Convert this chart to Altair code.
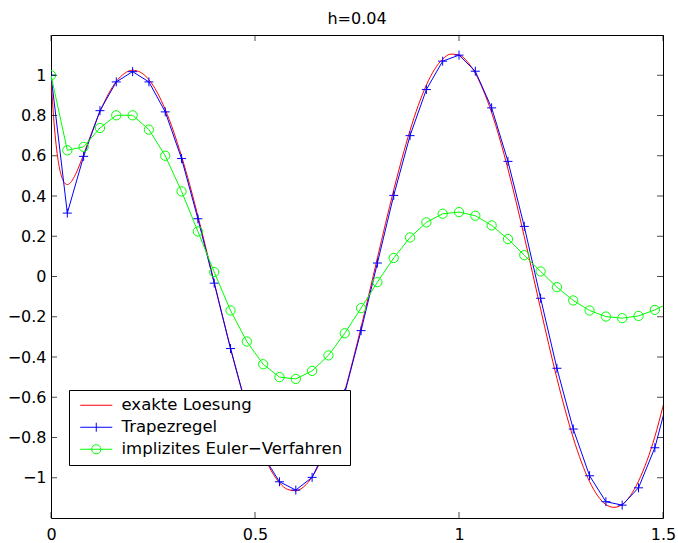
import altair as alt
import pandas as pd

# ---------------- data ----------------
series_names = ["exakte Loesung", "Trapezregel", "implizites Euler−Verfahren"]
series_colors = ["#ff0000", "#0000ff", "#00ff00"]

# exact solution (dense samples)
exact_t = [0.0, 0.005, 0.01, 0.015, 0.02, 0.025, 0.03, 0.035, 0.04, 0.045,
           0.05, 0.06, 0.07, 0.08, 0.09, 0.10, 0.12, 0.14, 0.16, 0.18,
           0.20, 0.22, 0.24, 0.26, 0.28, 0.30, 0.32, 0.34, 0.36, 0.38,
           0.40, 0.42, 0.44, 0.46, 0.48, 0.50, 0.52, 0.54, 0.56, 0.58,
           0.60, 0.62, 0.64, 0.66, 0.68, 0.70, 0.72, 0.74, 0.76, 0.78,
           0.80, 0.82, 0.84, 0.86, 0.88, 0.90, 0.92, 0.94, 0.96, 0.98,
           1.00, 1.02, 1.04, 1.06, 1.08, 1.10, 1.12, 1.14, 1.16, 1.18,
           1.20, 1.22, 1.24, 1.26, 1.28, 1.30, 1.32, 1.34, 1.36, 1.38,
           1.40, 1.42, 1.44, 1.46, 1.48, 1.50, 1.52]
exact_y = [1.0, 0.830, 0.705, 0.612, 0.547, 0.503, 0.475, 0.461, 0.457, 0.461,
           0.472, 0.507, 0.554, 0.607, 0.662, 0.716, 0.818, 0.904, 0.969, 1.009,
           1.025, 1.014, 0.978, 0.916, 0.830, 0.723, 0.597, 0.456, 0.301, 0.139,
           -0.028, -0.194, -0.356, -0.510, -0.652, -0.777, -0.882, -0.966, -1.025, -1.058,
           -1.065, -1.044, -0.996, -0.922, -0.825, -0.706, -0.569, -0.416, -0.252, -0.082,
           0.092, 0.264, 0.430, 0.585, 0.726, 0.849, 0.951, 1.029, 1.080, 1.105,
           1.101, 1.069, 1.009, 0.923, 0.814, 0.683, 0.534, 0.371, 0.198, 0.019,
           -0.161, -0.338, -0.506, -0.662, -0.802, -0.922, -1.019, -1.090, -1.133, -1.147,
           -1.133, -1.089, -1.017, -0.919, -0.796, -0.645, -0.485]

# time grid of the two methods (h = 0.04)
step_t = [0.0, 0.04, 0.08, 0.12, 0.16, 0.20, 0.24, 0.28, 0.32, 0.36,
          0.40, 0.44, 0.48, 0.52, 0.56, 0.60, 0.64, 0.68, 0.72, 0.76,
          0.80, 0.84, 0.88, 0.92, 0.96, 1.00, 1.04, 1.08, 1.12, 1.16,
          1.20, 1.24, 1.28, 1.32, 1.36, 1.40, 1.44, 1.48, 1.52]
trap_y = [1.0, 0.315, 0.597, 0.824, 0.967, 1.018, 0.967, 0.818, 0.586, 0.287,
          -0.033, -0.358, -0.655, -0.890, -1.020, -1.061, -0.998, -0.830, -0.580, -0.269,
          0.067, 0.403, 0.700, 0.929, 1.070, 1.100, 1.020, 0.838, 0.572, 0.249,
          -0.108, -0.456, -0.758, -0.990, -1.119, -1.136, -1.050, -0.851, -0.543]
euler_y = [1.0, 0.627, 0.644, 0.738, 0.801, 0.801, 0.730, 0.600, 0.423, 0.224,
           0.022, -0.169, -0.323, -0.436, -0.500, -0.509, -0.469, -0.392, -0.282, -0.157,
           -0.028, 0.092, 0.194, 0.269, 0.312, 0.320, 0.302, 0.254, 0.186, 0.106,
           0.025, -0.053, -0.119, -0.169, -0.199, -0.207, -0.196, -0.166, -0.126]

ytick_vals = [-1.0, -0.8, -0.6, -0.4, -0.2, 0.0, 0.2, 0.4, 0.6, 0.8, 1.0]
xtick_vals = [0.0, 0.5, 1.0, 1.5]
x_domain = [0.0, 1.5]
y_domain = [-1.2, 1.2]

# legend glyphs (line + marker), drawn by the legend itself
legend_paths = [
    "M-2.29,0H2.29",
    "M-2.29,0H2.29M0,-0.64V0.64",
    "M-2.29,0H2.29M0.66,0A0.66,0.66 0 1 1 -0.66,0A0.66,0.66 0 1 1 0.66,0",
]

# ---------------- tables ----------------
exact_df = pd.DataFrame({"t": exact_t, "y": exact_y})
trap_df = pd.DataFrame({"t": step_t, "y": trap_y})
euler_df = pd.DataFrame({"t": step_t, "y": euler_y})
legend_df = pd.DataFrame({"series": series_names})
ytick_df = pd.DataFrame({"v": ytick_vals})
xtick_df = pd.DataFrame({"v": xtick_vals})

FONT = "DejaVu Sans"
xs = alt.Scale(domain=x_domain, nice=False, zero=False)
ys = alt.Scale(domain=y_domain, nice=False, zero=False)

x_axis = alt.Axis(values=xtick_vals, format="~g", ticks=False, domain=False, grid=False,
                  labelPadding=8, labelFlush=False, labelFont=FONT, labelFontSize=16,
                  labelColor="black", title=None)
y_axis = alt.Axis(values=ytick_vals, format="~g", ticks=False, domain=False, grid=False,
                  labelPadding=5, labelFont=FONT, labelFontSize=16, labelColor="black",
                  title=None)

X = alt.X("t:Q", scale=xs, axis=x_axis)
Y = alt.Y("y:Q", scale=ys, axis=y_axis)

red_line = alt.Chart(exact_df).mark_line(color="#ff0000", strokeWidth=1, clip=True,
                                         interpolate="monotone").encode(x=X, y=Y)

blue_line = alt.Chart(trap_df).mark_line(color="#0000ff", strokeWidth=1, clip=True).encode(x=X, y=Y)
blue_pts = alt.Chart(trap_df).mark_point(shape="M-1,0H1M0,-1V1", size=81, filled=False,
                                         color="#0000ff", strokeWidth=1, opacity=1,
                                         clip=True).encode(x=X, y=Y)

green_line = alt.Chart(euler_df).mark_line(color="#00ff00", strokeWidth=1, clip=True).encode(x=X, y=Y)
green_pts = alt.Chart(euler_df).mark_point(shape="circle", size=86, filled=False,
                                           color="#00ff00", strokeWidth=1, opacity=1,
                                           clip=True).encode(x=X, y=Y)

leg = alt.Legend(title=None, orient="none", legendX=18, legendY=355, padding=7,
                 rowPadding=5, symbolSize=196, symbolStrokeWidth=1, symbolOffset=12,
                 labelOffset=17, labelFont=FONT, labelFontSize=16.5, labelColor="black",
                 labelLimit=400, strokeColor="black", fillColor="white",
                 symbolOpacity=1, cornerRadius=0)

legend_layer = alt.Chart(legend_df).mark_point(filled=False, opacity=0, strokeWidth=1).encode(
    color=alt.Color("series:N", scale=alt.Scale(domain=series_names, range=series_colors),
                    legend=leg),
    shape=alt.Shape("series:N", scale=alt.Scale(domain=series_names, range=legend_paths),
                    legend=leg),
)

# inward ticks on all four sides
tick_left = alt.Chart(ytick_df).mark_tick(orient="horizontal", size=6, thickness=1,
                                          xOffset=3, color="black").encode(
    x=alt.XDatum(0.0, scale=xs, axis=x_axis), y=alt.Y("v:Q", scale=ys, axis=y_axis))
tick_right = alt.Chart(ytick_df).mark_tick(orient="horizontal", size=6, thickness=1,
                                           xOffset=-3, color="black").encode(
    x=alt.XDatum(1.5, scale=xs, axis=x_axis), y=alt.Y("v:Q", scale=ys, axis=y_axis))
tick_bottom = alt.Chart(xtick_df).mark_tick(orient="vertical", size=6, thickness=1,
                                            yOffset=-3, color="black").encode(
    x=alt.X("v:Q", scale=xs, axis=x_axis), y=alt.YDatum(-1.2, scale=ys, axis=y_axis))
tick_top = alt.Chart(xtick_df).mark_tick(orient="vertical", size=6, thickness=1,
                                         yOffset=3, color="black").encode(
    x=alt.X("v:Q", scale=xs, axis=x_axis), y=alt.YDatum(1.2, scale=ys, axis=y_axis))

chart = alt.layer(
    red_line, blue_line, blue_pts, green_line, green_pts,
    tick_left, tick_right, tick_bottom, tick_top, legend_layer,
).properties(
    width=612,
    height=483,
    title=alt.Title("h=0.04", font=FONT, fontSize=16, fontWeight="normal", color="black",
                    anchor="middle", baseline="alphabetic", offset=11, dy=16),
    autosize=alt.AutoSizeParams(type="none"),
    padding={"left": 51, "top": 35, "right": 15, "bottom": 25},
).configure_view(stroke="black", strokeWidth=1)

chart.save("out.html", embed_options={"renderer": "svg", "actions": False})
